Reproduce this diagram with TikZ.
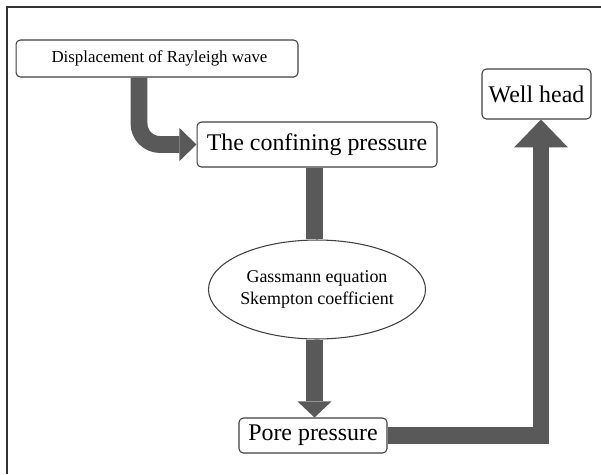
\documentclass[tikz,border=0pt]{standalone}
\usepackage{fontspec}
\setmainfont{Liberation Serif}
\usetikzlibrary{arrows.meta,shapes.geometric}

\definecolor{flowgray}{HTML}{595959}
\tikzset{
    box/.style={draw=black!75, line width=0.6pt, rounded corners=2.5pt,
        fill=white, inner sep=0pt, align=center},
    bigtext/.style={font=\fontsize{13.6}{16}\selectfont},
    smalltext/.style={font=\fontsize{10.2}{12.3}\selectfont},
    flow/.style={draw=flowgray, line width=9.6pt},
}

\begin{document}
\begin{tikzpicture}[x=0.02cm,y=-0.02cm]
    \useasboundingbox (0,0) rectangle (601,474);
    % frame (only top and left edges show)
    \draw[line width=0.9pt, black!80] (601,7) -- (7,7) -- (7,474);

    \node[box, font=\fontsize{9.6}{11}\selectfont,
        minimum width=5.64cm, minimum height=0.74cm]
        (disp) at (157,58.5) {\hspace{0.1cm}Displacement of Rayleigh wave};
    \node[box, bigtext, minimum width=4.8cm, minimum height=0.9cm]
        (conf) at (317,144.5) {The confining pressure};
    \node[box, bigtext, minimum width=2.18cm, minimum height=1.0cm]
        (well) at (536.5,94) {Well head};
    \node[box, smalltext, ellipse, rounded corners=0pt,
        minimum width=3.9cm, minimum height=1.98cm]
        (gass) at (317,289.5) {Gassmann equation\\Skempton coefficient};
    \node[box, bigtext, minimum width=2.96cm, minimum height=0.7cm]
        (pore) at (313,435.5) {Pore pressure};

    \coordinate (bend) at (139,144.5);
    \coordinate (stem) at (314.5,289.5);
    \coordinate (riser) at (541,435.5);

    \draw[flow, rounded corners=0.42cm,
        -{Triangle[width=18.8pt,length=9.7pt,line width=0pt]}]
        (disp.south -| bend) -- (bend) -- (conf.west);
    \draw[flow] (conf.south -| stem) -- (gass.north -| stem);
    \draw[flow, -{Triangle[width=19.3pt,length=9.1pt,line width=0pt]}]
        (gass.south -| stem) -- (pore.north -| stem);
    \draw[flow, -{Triangle[width=30.7pt,length=15.9pt,line width=0pt]}]
        (pore.east) -- (riser) -- (riser |- well.south);
\end{tikzpicture}
\end{document}
